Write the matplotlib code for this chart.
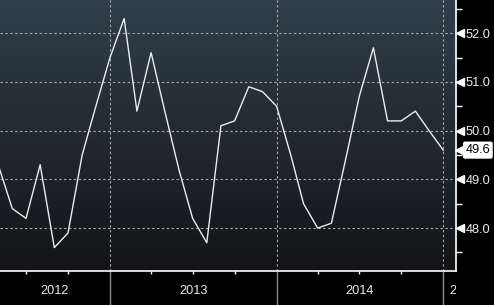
import matplotlib
matplotlib.use("Agg")
import matplotlib.pyplot as plt
import matplotlib.dates as mdates
import matplotlib.transforms as mtransforms
from matplotlib.patches import Rectangle
import numpy as np
import pandas as pd

# monthly readings, Mar 2012 .. Dec 2014 (each plotted at month end)
months = pd.period_range("2012-03", "2014-12", freq="M")
values = [48.3, 49.3, 48.4, 48.2, 49.3, 47.6, 47.9, 49.5, 50.5, 51.5,
          52.3, 50.4, 51.6, 50.4, 49.2, 48.2, 47.7, 50.1, 50.2, 50.9, 50.8, 50.5,
          49.5, 48.5, 48.0, 48.1, 49.4, 50.7, 51.7, 50.2, 50.2, 50.4, 50.0, 49.6]
years = [2012, 2013, 2014, 2015]
yticks = [48.0, 49.0, 50.0, 51.0, 52.0]

dates = (months + 1).to_timestamp()

plt.rcParams['font.family'] = ['Liberation Sans', 'DejaVu Sans']
FS = 9.2

fig = plt.figure(figsize=(4.94, 3.05), dpi=100, facecolor='black')
ax = fig.add_axes([0, 34 / 305, 456 / 494, 271 / 305])
ax.set_facecolor('black')

x0 = pd.Timestamp("2012-05-05")
x1 = pd.Timestamp("2015-01-29")
ax.set_xlim(x0, x1)
ax.set_ylim(47.12, 52.68)

# vertical gradient background
top = np.array([48, 63, 75]) / 255
bot = np.array([19, 20, 22]) / 255
t = np.linspace(0, 1, 256)[:, None]
grad = (top * (1 - t) + bot * t)[:, None, :]
ax.imshow(grad, extent=[0, 1, 0, 1], transform=ax.transAxes, aspect='auto',
          zorder=0, interpolation='bilinear')

# grid
grid_kw = dict(color='#a3a7aa', lw=0.8, ls=(0, (2.2, 2.2)), zorder=1)
for v in yticks:
    ax.axhline(v, **grid_kw)
for yr in years:
    ax.axvline(pd.Timestamp(f"{yr}-01-01"), **grid_kw)

ax.plot(dates, values, color='#ececec', lw=1.0, zorder=3)

# spines
for s in ['top', 'left']:
    ax.spines[s].set_visible(False)
for s in ['right', 'bottom']:
    ax.spines[s].set_color('white')
    ax.spines[s].set_linewidth(1.2)

# x axis: year boundaries long grey, quarters short white
ax.xaxis.set_major_locator(mdates.YearLocator())
ax.xaxis.set_minor_locator(mdates.MonthLocator(bymonth=[1, 4, 7, 10]))
ax.xaxis.set_major_formatter(plt.NullFormatter())
ax.tick_params(axis='x', which='major', length=26, width=1.0, color='#8a8a8a', direction='out')
ax.tick_params(axis='x', which='minor', length=2.5, width=1.0, color='white', direction='out')

clip = Rectangle((0, 0), 456 / 494, 1, transform=fig.transFigure)
lab_tr = mtransforms.blended_transform_factory(ax.transData, fig.transFigure)
left_num = mdates.date2num(x0)
right_num = mdates.date2num(x1)
for yr in years:
    a = max(mdates.date2num(pd.Timestamp(f"{yr}-01-01")), left_num)
    b = min(mdates.date2num(pd.Timestamp(f"{yr + 1}-01-01")), right_num)
    if b - a > 60:
        ax.text((a + b) / 2, 8 / 305, str(yr), transform=lab_tr, ha='center', va='bottom',
                color='#e6eef6', fontsize=FS, clip_on=False)
    else:
        txt = fig.text(0, 8 / 305, str(yr), transform=lab_tr, ha='left', va='bottom',
                       color='#e6eef6', fontsize=FS)
        txt.set_x(a + 13)
        txt.set_clip_path(clip)
        txt.set_clip_on(True)

# y axis on the right
ax.yaxis.tick_right()
ax.set_yticks(yticks)
ax.set_yticklabels([f"{v:.1f}" for v in yticks])
ax.set_yticks(np.arange(47.5, 53.0, 1.0), minor=True)
ax.tick_params(axis='y', which='major', length=0, pad=7, labelsize=FS, labelcolor='#e6eef6')
ax.tick_params(axis='y', which='minor', length=4, width=1.0, color='white', direction='out')

tri_tr = mtransforms.blended_transform_factory(ax.transAxes, ax.transData)
ax.plot([1.008] * len(yticks), yticks, marker='<', ms=5.5, color='white', ls='none',
        transform=tri_tr, clip_on=False, zorder=5)

# last value tag
last = values[-1]
ax.plot([1.008], [last], marker='<', ms=7, color='white', ls='none',
        transform=tri_tr, clip_on=False, zorder=5)
ax.text(1.021, last, f"{last:.1f}", transform=tri_tr, ha='left', va='center',
        fontsize=FS, color='black', clip_on=False, zorder=6,
        bbox=dict(boxstyle='round,pad=0.2,rounding_size=0.15', fc='white', ec='none'))

fig.savefig('out.png', dpi=100, facecolor='black')
